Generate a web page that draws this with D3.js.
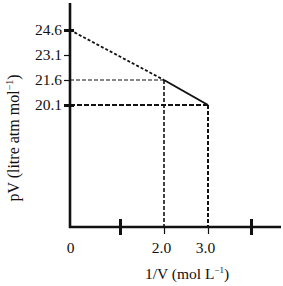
<!DOCTYPE html>
<html>
<head>
<meta charset="utf-8">
<script src="https://cdn.jsdelivr.net/npm/d3@7"></script>
<style>
  body { margin: 0; background: #fff; }
  text { font-family: "Liberation Serif", "Times New Roman", serif; fill: #111; }
</style>
</head>
<body>
<svg id="chart"></svg>
<script>
// data
const invV = [0, 2.0, 3.0];
const pV = [24.6, 21.6, 20.1];
const xTickValues = [0, 1, 2, 3, 4];
const xTickLabels = ["0", "", "2.0", "3.0", ""];
const yTickValues = [24.6, 23.1, 21.6, 20.1];

const width = 283, height = 286;
const originX = 70, originY = 227;

let svg = d3.select("#chart")
    .attr("width", width)
    .attr("height", height);

// the drawing is not to scale on x, so use a piecewise scale
let x = d3.scaleLinear()
    .domain(xTickValues)
    .range([70, 120, 164, 208, 251]);

let y = d3.scaleLinear()
    .domain([20.1, 24.6])
    .range([105, 30]);

// axis lines
svg.append("line")
    .attr("x1", originX).attr("x2", originX)
    .attr("y1", 3).attr("y2", originY + 1)
    .attr("stroke", "#111").attr("stroke-width", 2.6);

svg.append("line")
    .attr("x1", originX - 1).attr("x2", 281)
    .attr("y1", originY).attr("y2", originY)
    .attr("stroke", "#111").attr("stroke-width", 2.6);

// y axis
let yAxis = g => g
    .attr("transform", `translate(${originX},0)`)
    .call(d3.axisLeft(y).tickValues(yTickValues).tickFormat(d3.format(".1f")).tickSize(6).tickPadding(2))
    .call(g => g.select(".domain").remove())
    .call(g => g.selectAll(".tick line")
        .attr("stroke", "#111")
        .attr("x2", d => (d == 24.6 || d == 20.1) ? 4 : -6)
        .attr("x1", d => (d == 24.6 || d == 20.1) ? -6 : 0)
        .attr("stroke-width", d => (d == 24.6 || d == 20.1) ? 3 : 1.2))
    .call(g => g.selectAll(".tick text")
        .attr("font-family", "Liberation Serif")
        .attr("font-size", 15.5)
        .attr("fill", "#111"));

svg.append("g").call(yAxis);

// x axis
let xAxis = g => g
    .attr("transform", `translate(0,${originY})`)
    .call(d3.axisBottom(x).tickValues(xTickValues).tickFormat((d, i) => xTickLabels[i]).tickSize(0))
    .call(g => g.select(".domain").remove())
    .call(g => g.selectAll(".tick line")
        .attr("stroke", "#111")
        .attr("y1", d => (d == 1 || d == 4) ? -8 : 0)
        .attr("y2", d => (d == 1 || d == 4) ? 8 : (d == 0 ? 0 : 7))
        .attr("stroke-width", d => (d == 1 || d == 4) ? 3 : 1.2))
    .call(g => g.selectAll(".tick text")
        .attr("y", 15)
        .attr("dx", d => d == 0 ? 0 : -3)
        .attr("font-family", "Liberation Serif")
        .attr("font-size", 15.5)
        .attr("fill", "#111"));

svg.append("g").call(xAxis);

// guide lines
svg.append("line")
    .attr("x1", x(0)).attr("x2", x(invV[1]))
    .attr("y1", y(pV[1])).attr("y2", y(pV[1]))
    .attr("stroke", "#111").attr("stroke-width", 1.2)
    .attr("stroke-dasharray", "4,2");

svg.append("line")
    .attr("x1", x(invV[1])).attr("x2", x(invV[1]))
    .attr("y1", y(pV[1])).attr("y2", originY)
    .attr("stroke", "#111").attr("stroke-width", 1.6)
    .attr("stroke-dasharray", "4,2");

svg.append("line")
    .attr("x1", x(0)).attr("x2", x(invV[2]))
    .attr("y1", y(pV[2])).attr("y2", y(pV[2]))
    .attr("stroke", "#111").attr("stroke-width", 2.2)
    .attr("stroke-dasharray", "5,2");

svg.append("line")
    .attr("x1", x(invV[2])).attr("x2", x(invV[2]))
    .attr("y1", y(pV[2])).attr("y2", originY)
    .attr("stroke", "#111").attr("stroke-width", 2)
    .attr("stroke-dasharray", "4,2");

// extrapolated part (dashed) and measured part (solid)
svg.append("line")
    .attr("x1", x(invV[0])).attr("y1", y(pV[0]))
    .attr("x2", x(invV[1])).attr("y2", y(pV[1]))
    .attr("stroke", "#111").attr("stroke-width", 1.8)
    .attr("stroke-dasharray", "3,2");

svg.append("line")
    .attr("x1", x(invV[1])).attr("y1", y(pV[1]))
    .attr("x2", x(invV[2])).attr("y2", y(pV[2]))
    .attr("stroke", "#111").attr("stroke-width", 2);

// axis titles
let xTitle = svg.append("text")
    .attr("x", 187).attr("y", 279)
    .attr("text-anchor", "middle")
    .attr("font-size", 15.5);
xTitle.append("tspan").text("1/V (mol L");
xTitle.append("tspan").attr("font-size", 9).attr("dy", -6).text("\u22121");
xTitle.append("tspan").attr("dy", 6).text(")");

let yTitle = svg.append("text")
    .attr("transform", "translate(19,138) rotate(-90)")
    .attr("text-anchor", "middle")
    .attr("font-size", 16);
yTitle.append("tspan").text("pV (litre atm mol");
yTitle.append("tspan").attr("font-size", 10).attr("dy", -6).text("\u22121");
yTitle.append("tspan").attr("dy", 6).text(")");
</script>
</body>
</html>
